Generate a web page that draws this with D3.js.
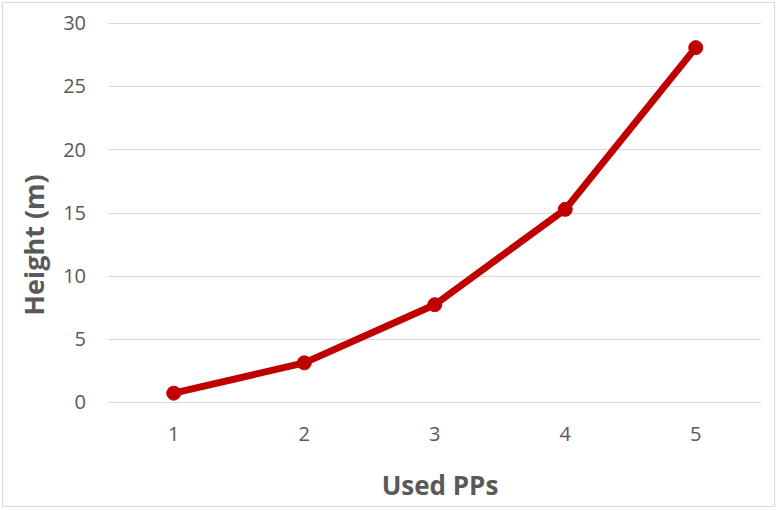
<!DOCTYPE html>
<html>
<head>
<meta charset="utf-8">
<script src="https://cdn.jsdelivr.net/npm/d3@7"></script>
<style>
    body { margin: 0; background: #fff; }
    svg { display: block; }
</style>
</head>
<body>
<svg id="chart" width="778" height="510"></svg>
<script>
// values
const categories = ["1", "2", "3", "4", "5"];
const heights = [0.7, 3.1, 7.7, 15.25, 28.05];
const yTicks = [0, 5, 10, 15, 20, 25, 30];

const svg = d3.select("#chart");
const font = "'Open Sans', 'Liberation Sans', sans-serif";

// chart border
svg.append("rect")
    .attr("x", 2.5).attr("y", 2.5)
    .attr("width", 772).attr("height", 504)
    .attr("fill", "#fff")
    .attr("stroke", "#d9d9d9");

const x = d3.scaleBand()
    .domain(categories)
    .range([108.5, 761]);

const y = d3.scaleLinear()
    .domain([0, 30])
    .range([402, 23]);

// gridlines
svg.append("g")
    .selectAll("line")
    .data(yTicks)
    .enter().append("line")
    .attr("x1", 108.5).attr("x2", 761)
    .attr("y1", d => Math.round(y(d)) + 0.5)
    .attr("y2", d => Math.round(y(d)) + 0.5)
    .attr("stroke", "#d9d9d9")
    .attr("stroke-width", 1);

// y tick labels
svg.append("g")
    .attr("font-family", font)
    .attr("font-size", 20)
    .attr("fill", "#595959")
    .selectAll("text")
    .data(yTicks)
    .enter().append("text")
    .attr("x", 86)
    .attr("y", d => y(d))
    .attr("dy", "0.36em")
    .attr("text-anchor", "end")
    .text(d => d);

// x tick labels
svg.append("g")
    .attr("font-family", font)
    .attr("font-size", 20)
    .attr("fill", "#595959")
    .selectAll("text")
    .data(categories)
    .enter().append("text")
    .attr("x", d => x(d) + x.bandwidth() / 2)
    .attr("y", 434)
    .attr("dy", "0.36em")
    .attr("text-anchor", "middle")
    .text(d => d);

// axis titles
svg.append("text")
    .attr("x", 440).attr("y", 495)
    .attr("text-anchor", "middle")
    .attr("font-family", font)
    .attr("font-size", 26)
    .attr("font-weight", "bold")
    .attr("fill", "#595959")
    .text("Used PPs");

svg.append("text")
    .attr("transform", "translate(44,245) rotate(-90)")
    .attr("text-anchor", "middle")
    .attr("font-family", font)
    .attr("font-size", 27)
    .attr("font-weight", "bold")
    .attr("fill", "#595959")
    .text("Height (m)");

// series
const pts = categories.map((c, i) => [x(c) + x.bandwidth() / 2, y(heights[i])]);

svg.append("path")
    .datum(pts)
    .attr("d", d3.line())
    .attr("fill", "none")
    .attr("stroke", "#c00000")
    .attr("stroke-width", 7)
    .attr("stroke-linejoin", "round")
    .attr("stroke-linecap", "round");

svg.append("g")
    .selectAll("circle")
    .data(pts)
    .enter().append("circle")
    .attr("cx", d => d[0])
    .attr("cy", d => d[1])
    .attr("r", 7)
    .attr("fill", "#c00000")
    .attr("stroke", "#c00000")
    .attr("stroke-width", 1);
</script>
</body>
</html>
